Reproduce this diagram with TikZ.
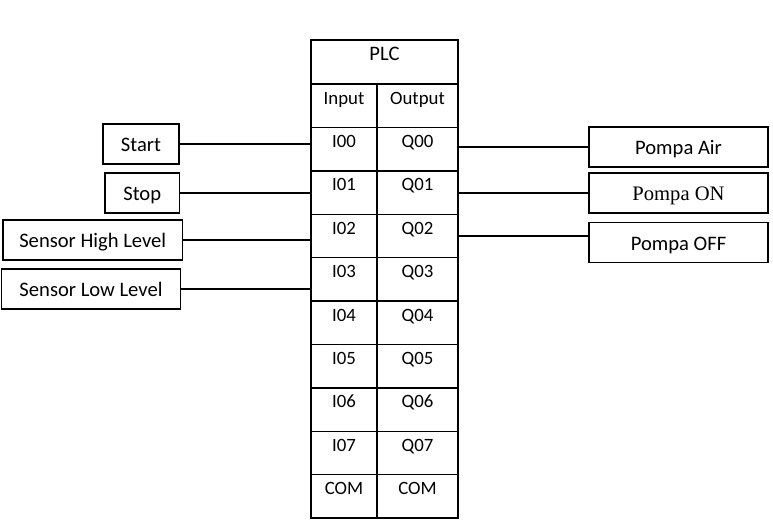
\documentclass[tikz,border=0pt]{standalone}
\usepackage{fontspec}
\setmainfont{Carlito}
\newfontfamily\timesfont{Liberation Serif}
\begin{document}
\begin{tikzpicture}[x=0.5pt, y=-0.5pt, line width=0.7pt,
  cell/.style={rectangle, draw, inner sep=0pt, text height=10pt, text depth=11.7pt, font=\fontsize{9.4}{11}\selectfont},
  incell/.style={cell, minimum width=33pt},
  outcell/.style={cell, minimum width=40.5pt},
  device/.style={rectangle, draw, inner sep=0pt, minimum height=20pt, text height=9pt, text depth=1.3pt, font=\fontsize{10.3}{12}\selectfont}]
\useasboundingbox (0,0) rectangle (773,520);

\node[cell, minimum width=73.5pt, text depth=12pt, font=\fontsize{10.3}{12}\selectfont](plc) at (384.5,62){PLC};
\node[incell](in) at (344,105.7){Input};
\node[outcell](out) at (417.5,105.7){Output};
\foreach \k in {0,...,7}{
  \node[incell](i\k) at (344,149.1+43.4*\k){I0\k};
  \node[outcell](q\k) at (417.5,149.1+43.4*\k){Q0\k};
}
\node[incell](icom) at (344,496.3){COM};
\node[outcell](qcom) at (417.5,496.3){COM};

\node[device, minimum width=38pt](start) at (141,144){Start};
\node[device, minimum width=37.25pt](stop) at (142.25,193){Stop};
\node[device, minimum width=89.75pt](high) at (92.75,240){Sensor High Level};
\node[device, minimum width=89.5pt](low) at (91,289){Sensor Low Level};
\node[device, minimum width=89.5pt](air) at (678.5,147){Pompa Air};
\node[device, minimum width=89.5pt, font=\fontsize{10.3}{12}\timesfont](on) at (678.5,193){Pompa ON};
\node[device, minimum width=89.5pt](off) at (678.5,242.5){Pompa OFF};

\draw
(start) edge (start -| i0.west)
(stop) edge (stop -| i1.west)
(high) edge (high -| i2.west)
(low) edge (low -| i3.west)
(air) edge (air -| q0.east)
(on) edge (on -| q1.east)
(q2) edge (q2 -| off.west)
;
\end{tikzpicture}
\end{document}
